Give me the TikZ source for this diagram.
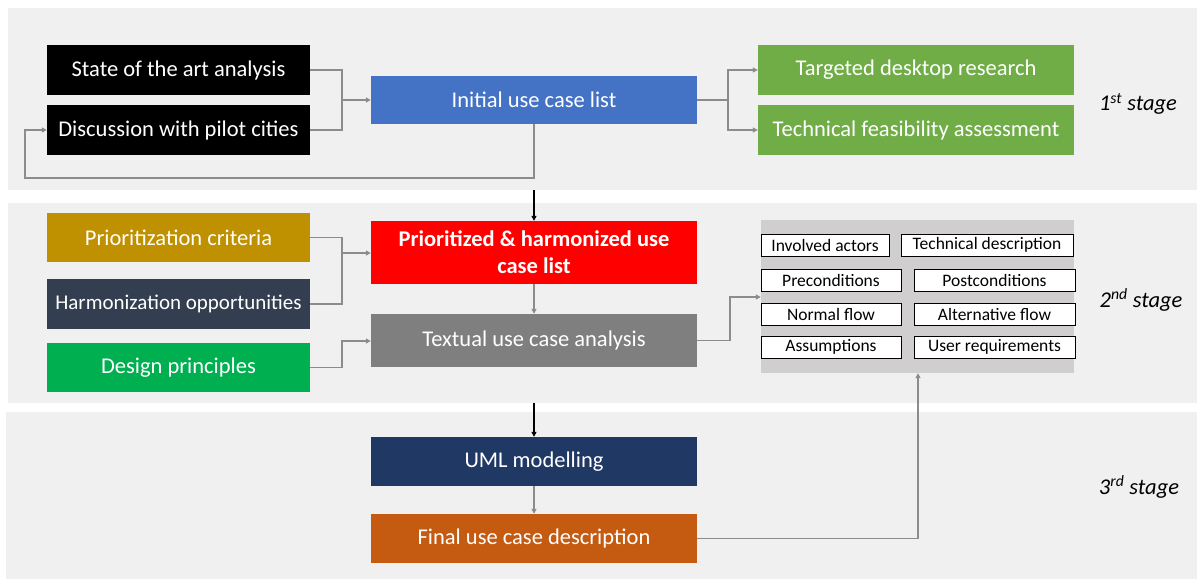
\documentclass[tikz,border=0pt]{standalone}
\usepackage{fontspec}
\setmainfont{Carlito}
\usetikzlibrary{arrows.meta,calc}
\definecolor{band}{HTML}{F0F0F0}
\definecolor{cblue}{HTML}{4472C4}
\definecolor{cgreen}{HTML}{70AD47}
\definecolor{cgold}{HTML}{BF9000}
\definecolor{cslate}{HTML}{333F50}
\definecolor{cgreen2}{HTML}{00B050}
\definecolor{cgrey}{HTML}{7F7F7F}
\definecolor{cbox}{HTML}{D0CECE}
\definecolor{cnavy}{HTML}{203864}
\definecolor{corange}{HTML}{C55A11}
\definecolor{lineg}{HTML}{8C8C8C}
\tikzset{
  box/.style={draw=none, text=white, font=\fontsize{22.5}{26}\selectfont, align=center, inner sep=2pt},
  sbox/.style={draw=black, line width=0.8pt, fill=white, font=\fontsize{17.5}{20}\selectfont, minimum height=22pt, inner sep=1pt},
  conn/.style={draw=lineg, line width=1.2pt, -{Triangle[width=5pt,length=5pt]}},
  plain/.style={draw=lineg, line width=1.2pt},
  blk/.style={draw=black, line width=1.2pt, -{Triangle[width=5pt,length=5pt]}},
  stage/.style={font=\fontsize{22.5}{26}\selectfont\itshape}
}
\begin{document}
\begin{tikzpicture}[x=1pt,y=-1pt]
\useasboundingbox (0,0) rectangle (1197,579);
\fill[white] (0,0) rectangle (1197,579);
% bands
\fill[band] (8,8) rectangle (1197,190);
\fill[band] (8,203) rectangle (1197,403);
\fill[band] (6,412) rectangle (1197,579);

% stage 1
\node[box, fill=black, minimum width=263pt, minimum height=50pt] (soa) at (178.5,70) {State of the art analysis};
\node[box, fill=black, minimum width=263pt, minimum height=50pt] (disc) at (178.5,130) {Discussion with pilot cities};
\node[box, fill=cblue, minimum width=326pt, minimum height=48pt] (init) at (534,100) {Initial use case list};
\node[box, fill=cgreen, minimum width=316pt, minimum height=50pt] (tdr) at (916,70) {Targeted desktop research};
\node[box, fill=cgreen, minimum width=316pt, minimum height=50pt] (tfa) at (916,130) {Technical feasibility assessment};
\node[stage] (s1) at (1138,104) {1\textsuperscript{st} stage};

% stage 2
\node[box, fill=cgold, minimum width=263pt, minimum height=49pt] (prc) at (178.5,237.5) {Prioritization criteria};
\node[box, fill=cslate, minimum width=263pt, minimum height=50pt, font=\fontsize{21}{24}\selectfont] (hop) at (178.5,304) {Harmonization opportunities};
\node[box, fill=cgreen2, minimum width=263pt, minimum height=49pt] (dp) at (178.5,367.5) {Design principles};
\node[box, fill=red, minimum width=326pt, minimum height=63pt, font=\fontsize{22.5}{27}\selectfont\bfseries] (phl) at (534,252.5) {Prioritized \& harmonized use\\case list};
\node[box, fill=cgrey, minimum width=326pt, minimum height=53pt] (tuca) at (534,340.5) {Textual use case analysis};
\node[fill=cbox, minimum width=313pt, minimum height=153pt, inner sep=0pt] (gb) at (917.5,296.5) {};
\node[sbox, minimum width=128pt] (ia) at (825,245) {Involved actors};
\node[sbox, minimum width=172pt] (td) at (987,245) {Technical description};
\node[sbox, minimum width=140pt] (pre) at (831,280) {Preconditions};
\node[sbox, minimum width=161pt] (post) at (994.5,280) {Postconditions};
\node[sbox, minimum width=140pt] (nf) at (831,314) {Normal flow};
\node[sbox, minimum width=161pt] (af) at (994.5,314) {Alternative flow};
\node[sbox, minimum width=140pt] (as) at (831,347) {Assumptions};
\node[sbox, minimum width=161pt] (ur) at (994.5,347) {User requirements};
\node[stage] (s2) at (1141,300) {2\textsuperscript{nd} stage};

% stage 3
\node[box, fill=cnavy, minimum width=326pt, minimum height=49pt] (uml) at (534,461.5) {UML modelling};
\node[box, fill=corange, minimum width=326pt, minimum height=49pt] (fin) at (534,538.5) {Final use case description};
\node[stage] (s3) at (1139,487) {3\textsuperscript{rd} stage};

% connectors stage 1
\draw[plain] (soa.east) -| (342,100);
\draw[plain] (disc.east) -| (342,100);
\draw[conn] (342,100) -- (init.west);
\draw[conn] (init.south) |- (25,178) |- (disc.west);
\draw[plain] (init.east) -- (728,100);
\draw[conn] (728,100) |- (tdr.west);
\draw[conn] (728,100) |- (tfa.west);
\coordinate (b1) at (534,190);
\draw[blk] (b1) -- (phl.north);

% connectors stage 2
\draw[plain] (prc.east) -| (342,253);
\draw[plain] (hop.east) -| (342,253);
\draw[conn] (342,253) -- (phl.west |- 0,253);
\draw[conn] (phl.south) -- (tuca.north);
\draw[conn] (dp.east) -| (342,341) -- (tuca.west |- 0,341);
\draw[conn] (tuca.east) -| (730,297) -- (gb.west |- 0,297);
\coordinate (b2) at (534,403);
\draw[blk] (b2) -- (uml.north);

% stage 3
\draw[conn] (uml.south) -- (fin.north);
\draw[conn] (fin.east) -| (gb.south -| 918,0);
\end{tikzpicture}
\end{document}
